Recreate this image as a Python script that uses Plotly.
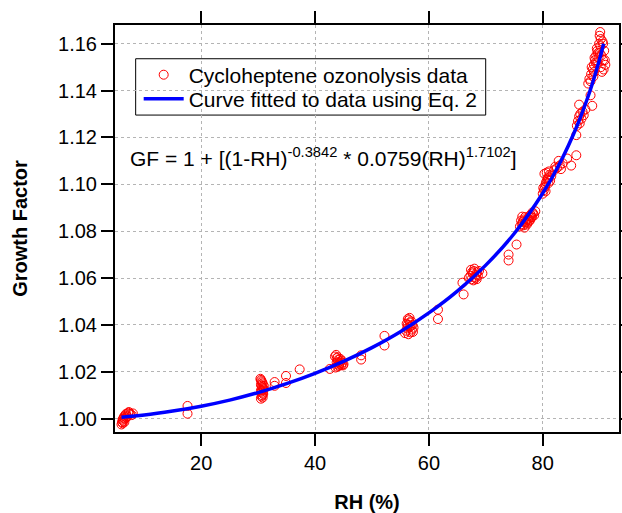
import plotly.graph_objects as go

rh_low = [6.0, 6.1, 6.2, 6.2, 6.3, 6.3, 6.4, 6.5, 6.5, 6.6, 6.7, 6.8, 7.0, 7.2, 7.5, 7.8, 8.0, 6.9, 7.3]
gf_low = [0.9975, 0.9985, 0.9980, 0.9995, 1.0000, 0.9990, 1.0005, 0.9985, 1.0010, 1.0000,
          1.0015, 1.0020, 1.0010, 1.0025, 1.0020, 1.0015, 1.0022, 1.0005, 1.0028]

rh_18 = [17.6, 17.6]
gf_18 = [1.0054, 1.0021]

rh_31 = [30.4, 30.5, 30.6, 30.7, 30.8, 30.5, 30.6, 30.7, 30.9, 31.0, 30.5, 30.6, 30.8, 30.9, 30.7,
         30.6, 30.8, 30.5, 31.0, 30.7, 32.9, 32.9, 34.9, 34.9, 37.3]
gf_31 = [1.0170, 1.0165, 1.0160, 1.0155, 1.0150, 1.0145, 1.0140, 1.0135, 1.0130, 1.0125, 1.0120,
         1.0115, 1.0110, 1.0105, 1.0100, 1.0095, 1.0090, 1.0085, 1.0140, 1.0120, 1.0156, 1.0140,
         1.0182, 1.0152, 1.0210]

rh_44 = [42.6, 43.5, 43.7, 43.8, 44.0, 44.1, 44.2, 43.9, 44.3, 44.5, 44.6, 44.8, 45.0, 43.6, 44.0,
         44.4, 44.7, 44.2, 43.8, 44.9, 48.1, 48.1, 52.2, 52.2]
gf_44 = [1.0212, 1.0265, 1.0272, 1.0258, 1.0250, 1.0240, 1.0230, 1.0222, 1.0235, 1.0245, 1.0228,
         1.0238, 1.0232, 1.0218, 1.0262, 1.0255, 1.0248, 1.0225, 1.0240, 1.0227, 1.0270, 1.0252,
         1.0353, 1.0312]

rh_57 = [55.8, 56.0, 56.2, 56.3, 56.5, 56.6, 56.7, 56.8, 57.0, 57.2, 56.4, 56.9, 56.1, 56.6, 57.1,
         56.3, 56.8, 57.3, 61.6, 61.6]
gf_57 = [1.0365, 1.0375, 1.0385, 1.0400, 1.0420, 1.0430, 1.0410, 1.0395, 1.0380, 1.0370, 1.0360,
         1.0415, 1.0405, 1.0390, 1.0400, 1.0425, 1.0368, 1.0388, 1.0465, 1.0425]

rh_68 = [66.1, 65.9, 67.0, 67.3, 67.5, 67.7, 67.9, 68.1, 68.3, 68.5, 67.4, 67.8, 68.2, 68.6, 67.6,
         68.0, 68.4, 69.4, 68.8]
gf_68 = [1.0530, 1.0580, 1.0600, 1.0610, 1.0595, 1.0620, 1.0630, 1.0605, 1.0615, 1.0625, 1.0635,
         1.0590, 1.0600, 1.0610, 1.0625, 1.0640, 1.0595, 1.0620, 1.0630]

rh_77 = [74.0, 74.0, 75.4, 76.0, 76.3, 76.5, 76.7, 76.9, 77.1, 77.3, 77.5, 77.7, 77.9, 78.1, 78.3,
         76.2, 76.6, 77.0, 77.4, 77.8, 78.2, 78.5, 76.8, 77.2, 77.6, 78.0, 76.4, 78.7]
gf_77 = [1.0700, 1.0675, 1.0743, 1.0820, 1.0830, 1.0840, 1.0850, 1.0860, 1.0845, 1.0835, 1.0855,
         1.0865, 1.0870, 1.0860, 1.0875, 1.0845, 1.0825, 1.0838, 1.0852, 1.0848, 1.0880, 1.0868,
         1.0815, 1.0828, 1.0842, 1.0858, 1.0862, 1.0885]

rh_81 = [80.0, 80.2, 80.4, 80.5, 80.6, 80.8, 81.0, 81.2, 80.3, 80.7, 81.1, 81.5, 82.0, 82.5, 83.0,
         83.5, 80.1, 80.9, 81.3, 82.2, 82.8, 83.2, 84.3, 85.0, 85.9, 80.5, 81.0]
gf_81 = [1.0960, 1.0975, 1.0990, 1.1000, 1.1010, 1.1020, 1.1030, 1.1040, 1.1045, 1.1050, 1.1055,
         1.1035, 1.1060, 1.1070, 1.1080, 1.1090, 1.0985, 1.1025, 1.1015, 1.1075, 1.1100, 1.1065,
         1.1110, 1.1080, 1.1124, 1.0970, 1.1005]

rh_89 = [85.9, 86.0, 86.2, 86.4, 86.6, 86.8, 87.0, 87.2, 86.5, 87.5, 86.4, 88.7, 88.4, 88.0,
         88.2, 88.5, 88.8, 89.0, 89.2, 89.4, 89.6, 89.8, 90.0, 90.2, 90.4, 90.6, 90.8, 91.0, 88.6,
         89.1, 89.5, 89.9, 90.3, 90.7, 88.9, 89.3, 89.7, 90.1, 90.5, 90.9, 89.0, 89.6, 90.2, 90.6,
         88.4, 90.0, 90.1]
gf_89 = [1.1210, 1.1250, 1.1270, 1.1290, 1.1300, 1.1280, 1.1310, 1.1295, 1.1260, 1.1320, 1.1340,
         1.1335, 1.1380, 1.1430,
         1.1450, 1.1470, 1.1490, 1.1510, 1.1530, 1.1550, 1.1520, 1.1540, 1.1560, 1.1500, 1.1480,
         1.1530, 1.1570, 1.1510, 1.1500, 1.1540, 1.1580, 1.1600, 1.1550, 1.1490, 1.1460, 1.1520,
         1.1560, 1.1590, 1.1610, 1.1530, 1.1480, 1.1570, 1.1620, 1.1600, 1.1440, 1.1634, 1.1650]

# fitted curve (Eq. 2)
fit_rh = [6, 10, 15, 20, 25, 30, 35, 40, 45, 50, 55, 60, 65, 70, 75, 80, 83, 86, 88, 89, 90, 90.7]
fit_gf = [1.0006, 1.0015, 1.0032, 1.0053, 1.0079, 1.0111, 1.0149, 1.0193, 1.0244, 1.0303, 1.0371,
          1.0451, 1.0544, 1.0655, 1.0790, 1.0962, 1.1090, 1.1248, 1.1377, 1.1452, 1.1535, 1.1600]

x_ticks = [20, 40, 60, 80]
y_ticks = [1.00, 1.02, 1.04, 1.06, 1.08, 1.10, 1.12, 1.14, 1.16]

rh_all = rh_low + rh_18 + rh_31 + rh_44 + rh_57 + rh_68 + rh_77 + rh_81 + rh_89
gf_all = gf_low + gf_18 + gf_31 + gf_44 + gf_57 + gf_68 + gf_77 + gf_81 + gf_89

FONT = "Arial, Liberation Sans, sans-serif"

fig = go.Figure()
fig.add_trace(go.Scatter(
    x=rh_all, y=gf_all, mode="markers",
    name="Cycloheptene ozonolysis data", legend="legend",
    marker=dict(symbol="circle-open", size=9, color="#ff0000", line=dict(width=1, color="#ff0000")),
))
fig.add_trace(go.Scatter(
    x=fit_rh, y=fit_gf, mode="lines", line_shape="spline",
    name="Curve fitted to data using Eq. 2", legend="legend2",
    line=dict(color="#0000ff", width=3.5),
))

axis_common = dict(
    showline=True, linecolor="black", linewidth=2, mirror="ticks",
    ticks="outside", ticklen=12, tickwidth=2, tickcolor="black",
    showgrid=True, gridcolor="#b4b4b4", gridwidth=1, griddash="dot",
    zeroline=False, automargin=False,
    tickfont=dict(family=FONT, size=20, color="black"),
)

fig.update_xaxes(range=[4.86, 93.4], tickvals=x_ticks, ticktext=[str(v) for v in x_ticks],
                 title=dict(text="<b>RH (%)</b>", font=dict(family=FONT, size=20, color="black"), standoff=22),
                 **axis_common)
fig.update_yaxes(range=[0.99428, 1.168], tickvals=y_ticks, ticktext=[f"{v:.2f}" for v in y_ticks],
                 title=dict(text="<b>Growth Factor</b>", font=dict(family=FONT, size=20, color="black"), standoff=25),
                 **axis_common)

fig.add_annotation(
    xref="paper", yref="paper", x=0.025, y=0.640, xanchor="left", yanchor="bottom",
    text="GF = 1 + [(1-RH)<sup>-0.3842</sup> * 0.0759(RH)<sup>1.7102</sup>]",
    showarrow=False, font=dict(family=FONT, size=21, color="black"),
)

# legend frame
fig.add_shape(type="rect", xref="paper", yref="paper", x0=0.041, x1=0.7355, y0=0.7787, y1=0.9171,
              line=dict(color="black", width=1), fillcolor="white", layer="between")

leg_common = dict(xanchor="left", yanchor="middle", borderwidth=0, bgcolor="rgba(0,0,0,0)",
                  font=dict(family=FONT, size=21, color="black"), itemwidth=40)

fig.update_layout(
    width=622, height=513,
    margin=dict(l=115, r=3, t=25, b=81),
    paper_bgcolor="white", plot_bgcolor="white",
    font=dict(family=FONT, size=20, color="black"),
    showlegend=True,
    legend=dict(x=0.047, y=0.877, **leg_common),
    legend2=dict(x=0.047, y=0.818, **leg_common),
)

fig.write_html("out.html", config={"displayModeBar": False},
               post_script="document.body.style.margin='0px';")
